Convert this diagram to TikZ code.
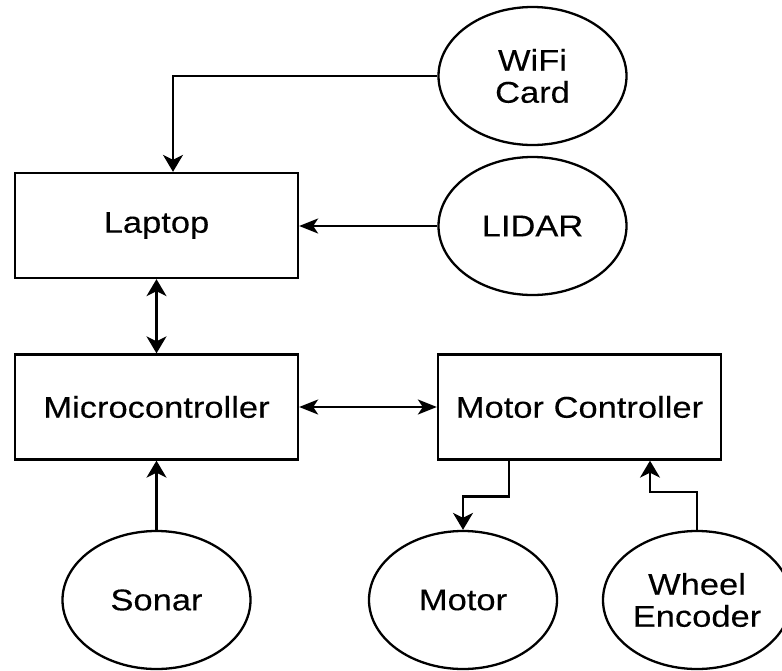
\documentclass[tikz,border=0pt]{standalone}
\usepackage{fontspec}
\setmainfont{Liberation Sans}[FakeStretch=1.15,FakeBold=0.2]
\usepackage{tikz}
\usetikzlibrary{positioning, arrows.meta, calc}
\usetikzlibrary{shapes.geometric}
% tips come out wider on up/down links than on left/right ones
\tikzstyle{vtip} = [line width=1.2pt,>={Stealth[length=8.5pt,width=10pt,inset=2.5pt]}]
\tikzstyle{htip} = [line width=1.1pt,>={Stealth[length=9.5pt,width=7.5pt,inset=2.5pt]}]

\begin{document}
\begin{tikzpicture}[
            x=0.5pt, y=-0.5pt,
            block/.style={rectangle, draw, line width=1.15pt, minimum width=141.5pt, minimum height=52.5pt, align=center, font=\fontsize{15}{16}\selectfont},
            part/.style={ellipse, draw, line width=1.15pt, minimum width=94pt, minimum height=69pt, inner sep=0pt, align=center, font=\fontsize{15}{16}\selectfont}
        ]
            \useasboundingbox (0,0) rectangle (782,670);

            % Main boards
            \node[block] at (156.5,225.5) (laptop) {Laptop};
            \node[block] at (156.5,407) (micro) {Microcontroller};
            \node[block] at (579.5,407) (motorctl) {Motor Controller};

            % Sensors and actuators
            \node[part] at (532.5,76) (wifi) {WiFi\\Card};
            \node[part] at (532.5,226) (lidar) {LIDAR};
            \node[part] at (156.5,600) (sonar) {Sonar};
            \node[part] at (463,600) (motor) {Motor};
            \node[part] at (697,600) (encoder) {Wheel\\Encoder};

            % Ports on the motor controller
            \coordinate (mcout) at ($(motorctl.south)+(-70.5,0)$);
            \coordinate (mcin) at ($(motorctl.south)+(70.5,0)$);
            \coordinate (wifiin) at ($(laptop.north)+(16.5,0)$);

            % Inputs to the laptop
            \draw[vtip, ->] (wifi.west) -| (wifiin);
            \draw[htip, ->] (lidar.west) -- (laptop.east |- lidar.west);

            % Serial links
            \draw[vtip, <->] (laptop.south) -- (micro.north);
            \draw[htip, <->] (micro.east) -- (motorctl.west);

            % Sonar, motor and encoder
            \draw[vtip, ->] (sonar.north) -- (micro.south);
            \draw[vtip, ->] (mcout) -- ++(0,36) -| (motor.north);
            \draw[vtip, ->] (encoder.north) -- ++(0,-38) -| (mcin);
        \end{tikzpicture}
\end{document}
